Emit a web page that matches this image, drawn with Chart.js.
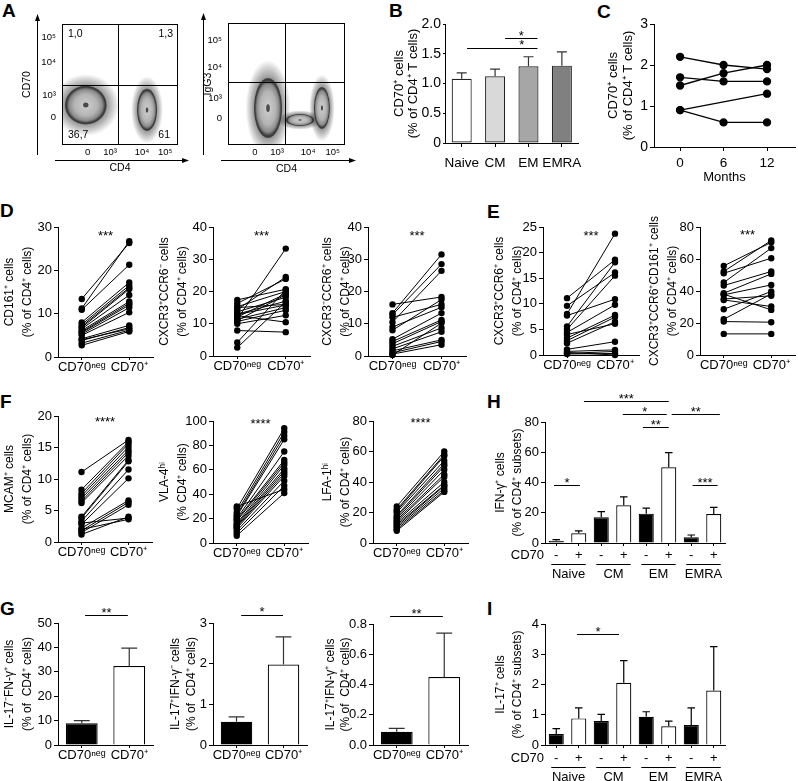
<!DOCTYPE html>
<html>
<head>
<meta charset="utf-8">
<script src="https://cdn.jsdelivr.net/npm/chart.js@4.4.1/dist/chart.umd.min.js"></script>
<style>
  html, body { margin: 0; padding: 0; background: #fff; }
  #fig { position: relative; width: 798px; height: 781px; overflow: hidden; font-family: "Liberation Sans", Arial, sans-serif; }
  .lbl { position: absolute; font-weight: bold; font-size: 19px; line-height: 19px; }
  canvas { position: absolute; }
</style>
</head>
<body>
<div id="fig">
  <div class="lbl" style="left:2px;top:1px">A</div>
  <div class="lbl" style="left:389px;top:1px">B</div>
  <div class="lbl" style="left:597px;top:2px">C</div>
  <div class="lbl" style="left:0px;top:201px">D</div>
  <div class="lbl" style="left:487px;top:202px">E</div>
  <div class="lbl" style="left:0px;top:392px">F</div>
  <div class="lbl" style="left:487px;top:392px">H</div>
  <div class="lbl" style="left:0px;top:599px">G</div>
  <div class="lbl" style="left:487px;top:599px">I</div>
</div>
<script>
// ---------- data ----------

// A: flow plots, display units 0-100 on both axes
const aTickText = ['0', '10³', '10⁴', '10⁵'];
const aLeftXTicks = [22, 41.5, 69, 89];
const aLeftYTicks = [23, 41, 68, 89];
const aRightXTicks = [23, 42, 68.5, 89.5];
const aRightYTicks = [22, 38, 64, 86];
const aLeftGate = [48.3, 49.6];
const aRightGate = [48.7, 51.6];
const aLeftQuad = ['1,0', '1,3', '36,7', '61'];
// populations: centre x, centre y, spread x, spread y
const aLeftPops = [[20.5, 33, 18, 16], [73.3, 29, 8.6, 17.4]];
const aRightPops = [[61.5, 20.5, 12, 5], [34.2, 30.3, 12, 24.6], [80.3, 30.3, 6.8, 17.2]];

// B
const bCats = ['Naive', 'CM', 'EM', 'EMRA'];
const bMean = [1.08, 1.12, 1.29, 1.30];
const bErr = [0.10, 0.12, 0.16, 0.23];
const bSig = [[1.3, 2.27, 1.765, '*'], [0.16, 2.27, 1.6, '*', 1.8]];

// C
const cMonths = [0, 6, 12];
const cSubj1 = [2.2, 2.0, 1.9];
const cSubj2 = [1.7, 1.6, 1.6];
const cSubj3 = [1.5, 1.8, 2.0];
const cSubj4 = [0.9, null, 1.3];
const cSubj5 = [0.9, 0.6, 0.6];

// paired plots
const pairLabels = ['CD70ⁿᵉᵍ', 'CD70⁺'];
const d1Neg = [13.4, 11.2, 10.9, 8.0, 7.5, 7.1, 6.8, 6.5, 6.1, 5.8, 5.6, 5.3, 5.0, 4.2, 3.8, 3.2, 2.7, 4.0];
const d1Pos = [26.3, 26.7, 21.3, 17.2, 16.5, 16.0, 15.7, 14.3, 12.8, 12.4, 12.0, 11.4, 10.3, 7.3, 6.8, 6.2, 5.9, 6.5];
const d2Neg = [11.5, 14.4, 16.3, 17.4, 15.3, 12.1, 13.7, 12.9, 11.4, 10.7, 10.0, 12.5, 15.0, 11.0, 7.9, 4.2, 2.6, 13.0];
const d2Pos = [33.3, 24.5, 23.9, 20.7, 20.0, 19.3, 18.2, 15.8, 15.0, 14.2, 12.6, 10.5, 16.0, 19.0, 7.4, 20.5, 16.8, 17.0];
const d3Neg = [16.0, 13.3, 12.8, 10.5, 9.0, 8.0, 5.2, 4.5, 3.8, 3.0, 2.2, 1.6, 1.0, 0.6, 0.3, 12.0];
const d3Pos = [18.3, 31.5, 28.5, 26.4, 15.1, 17.5, 13.3, 11.2, 10.7, 8.7, 7.5, 5.0, 4.5, 3.5, 10.2, 16.0];
const e1Neg = [8.0, 11.1, 9.6, 5.6, 5.0, 7.7, 4.4, 3.3, 2.8, 2.3, 4.0, 1.1, 0.7, 0.3, 0.2, 0.5];
const e1Pos = [23.7, 18.6, 16.1, 18.1, 15.5, 10.9, 9.8, 7.8, 7.4, 6.5, 6.1, 2.6, 1.0, 0.7, 0.3, 0.0];
const e2Neg = [55.7, 52.2, 51.1, 45.3, 43.4, 38.6, 37.6, 34.4, 28.6, 22.3, 20.9, 13.2, 35.0, 38.0];
const e2Pos = [70.4, 71.6, 60.5, 66.8, 52.2, 50.7, 43.8, 30.3, 39.7, 38.2, 20.5, 13.2, 37.0, 28.2];
const f1Neg = [11.1, 8.3, 7.7, 7.3, 6.9, 6.5, 6.2, 4.0, 3.8, 3.3, 2.8, 2.2, 1.8, 1.5, 1.2, 3.0, 2.0];
const f1Pos = [16.2, 15.9, 15.6, 15.1, 14.6, 14.2, 13.7, 13.0, 12.8, 11.5, 10.1, 6.6, 6.3, 5.9, 4.0, 3.8, 3.6];
const f2Neg = [30, 28, 25, 23, 22, 20, 19, 18, 16, 15, 14, 13, 12, 10, 8, 6];
const f2Pos = [44, 94, 91, 88, 85, 75, 68, 66, 64, 61, 59, 57, 55, 51, 47, 41];
const f3Neg = [24, 22, 21, 20, 18, 17, 16, 15, 14, 13, 12, 11, 10, 9, 8];
const f3Pos = [60, 58, 57, 54, 52, 50.5, 48, 45, 43.5, 40, 38, 37.5, 36, 34.5, 33.5];

// G
const g1Mean = [8.9, 32.4], g1Err = [1.1, 7.3];
const g2Mean = [0.57, 1.98], g2Err = [0.12, 0.68];
const g3Mean = [0.088, 0.45], g3Err = [0.022, 0.29];
const g1Sig = [[0.07, 0.97, 53.3, '**']];
const g2Sig = [[0.1, 0.99, 3.2, '*']];
const g3Sig = [[-0.14, 0.97, 0.853, '**']];

// H, I
const subsetGroups = ['Naive', 'CM', 'EM', 'EMRA'];
const cd70Signs = ['-', '+', '-', '+', '-', '+', '-', '+'];
const hMean = [1.5, 6.4, 17.0, 25.0, 19.4, 50.1, 3.8, 19.2];
const hErr = [0.7, 1.6, 3.7, 5.5, 3.6, 9.7, 1.5, 4.4];
const hSig = [[-0.1, 1.05, 38.3, '*'], [1.23, 5.0, 93.9, '***'], [2.96, 4.91, 85.3, '*'],
              [3.85, 5.0, 76.7, '**'], [5.13, 7.27, 85.3, '**'], [6.06, 7.17, 38.3, '***']];
const iMean = [0.36, 0.88, 0.79, 2.06, 0.93, 0.62, 0.66, 1.80];
const iErr = [0.18, 0.35, 0.22, 0.73, 0.17, 0.17, 0.57, 1.45];
const iSig = [[0.92, 2.79, 3.67, '*']];

// ---------- setup ----------
const FONT = '"Liberation Sans", Arial, Helvetica, sans-serif';
Chart.defaults.font.family = FONT;
Chart.defaults.color = '#000';
const fig = document.getElementById('fig');

// error bars (upper whisker only)
const errBars = {
  id: 'errBars',
  afterDatasetsDraw(chart, args, o) {
    if (!o.err) return;
    const {ctx, scales: {y}} = chart;
    const vals = chart.data.datasets[0].data;
    ctx.save();
    ctx.strokeStyle = o.color || '#000';
    ctx.lineWidth = 1.2;
    chart.getDatasetMeta(0).data.forEach((bar, i) => {
      const p = bar.getProps(['x', 'y', 'width'], true);
      const yt = y.getPixelForValue(vals[i] + o.err[i]);
      const hw = p.width * 0.25;
      ctx.beginPath();
      ctx.moveTo(p.x, p.y); ctx.lineTo(p.x, yt);
      ctx.moveTo(p.x - hw, yt); ctx.lineTo(p.x + hw, yt);
      ctx.stroke();
    });
    ctx.restore();
  }
};

// significance lines and stars
const sigMarks = {
  id: 'sigMarks',
  afterDraw(chart, args, o) {
    if (!o.marks) return;
    const {ctx, scales: {x, y}} = chart;
    ctx.save();
    ctx.fillStyle = '#000'; ctx.strokeStyle = '#000'; ctx.lineWidth = 1;
    ctx.font = (o.size || 13) + 'px ' + FONT;
    ctx.textAlign = 'center'; ctx.textBaseline = 'middle';
    o.marks.forEach(m => {
      const py = y.getPixelForValue(m[2]);
      const x1 = x.getPixelForValue(m[0]), x2 = x.getPixelForValue(m[1]);
      if (m[0] !== m[1]) {
        const ly = Math.round(py) + 0.5;
        ctx.beginPath(); ctx.moveTo(x1, ly); ctx.lineTo(x2, ly); ctx.stroke();
        const tx = m[4] !== undefined ? x.getPixelForValue(m[4]) : (x1 + x2) / 2;
        ctx.fillText(m[3], tx, py - 2);
      } else {
        ctx.fillText(m[3], x1, py + 3);
      }
    });
    ctx.restore();
  }
};

// CD70 row, subset underlines and names under H and I
const groupAxis = {
  id: 'groupAxis',
  afterDraw(chart, args, o) {
    if (!o.groups) return;
    const {ctx, chartArea: a, scales: {x}} = chart;
    ctx.save();
    ctx.font = '13px ' + FONT;
    ctx.fillStyle = '#000'; ctx.strokeStyle = '#000'; ctx.lineWidth = 1;
    ctx.textBaseline = 'middle';
    ctx.textAlign = 'right';
    ctx.fillText(o.title, a.left - 1, a.bottom + o.tickY);
    ctx.textAlign = 'center';
    o.groups.forEach((g, k) => {
      const x0 = x.getPixelForValue(2 * k) - 5, x1 = x.getPixelForValue(2 * k + 1) + 7;
      const ly = Math.round(a.bottom + o.lineY) + 0.5;
      ctx.beginPath(); ctx.moveTo(x0, ly); ctx.lineTo(x1, ly); ctx.stroke();
      ctx.fillText(g, (x0 + x1) / 2, a.bottom + o.textY);
    });
    ctx.restore();
  }
};

// density blob for flow plots: speckled halo, dark rim, light grey inside
function blob(ctx, cx, cy, rx, ry) {
  ctx.save();
  ctx.translate(cx, cy); ctx.scale(rx, ry);
  let gr = ctx.createRadialGradient(0, 0, 0.85, 0, 0, 1.6);
  gr.addColorStop(0, 'rgba(0,0,0,0.5)');
  gr.addColorStop(1, 'rgba(0,0,0,0)');
  ctx.fillStyle = gr;
  ctx.beginPath(); ctx.arc(0, 0, 1.6, 0, Math.PI * 2); ctx.fill();
  gr = ctx.createRadialGradient(0, 0, 0, 0, 0, 1);
  gr.addColorStop(0, '#cfcfcf');
  gr.addColorStop(0.55, '#b4b4b4');
  gr.addColorStop(0.8, '#8a8a8a');
  gr.addColorStop(0.93, '#3a3a3a');
  gr.addColorStop(1, 'rgba(40,40,40,0.7)');
  ctx.fillStyle = gr;
  ctx.beginPath(); ctx.arc(0, 0, 1, 0, Math.PI * 2); ctx.fill();
  ctx.fillStyle = '#4a4a4a';
  ctx.beginPath(); ctx.arc(0, 0, 0.13, 0, Math.PI * 2); ctx.fill();
  ctx.restore();
}

const flow = {
  id: 'flow',
  beforeDatasetsDraw(chart, args, o) {
    if (!o.pops) return;
    const {ctx, chartArea: a, scales: {x, y}} = chart;
    ctx.save();
    ctx.beginPath(); ctx.rect(a.left, a.top, a.width, a.height); ctx.clip();
    o.pops.forEach(p => {
      const cx = x.getPixelForValue(p[0]), cy = y.getPixelForValue(p[1]);
      const rx = x.getPixelForValue(p[0] + p[2]) - cx, ry = cy - y.getPixelForValue(p[1] + p[3]);
      blob(ctx, cx, cy, rx, ry);
    });
    ctx.restore();

    ctx.save();
    ctx.strokeStyle = '#000'; ctx.fillStyle = '#000'; ctx.lineWidth = 1;
    ctx.strokeRect(a.left + 0.5, a.top + 0.5, a.width - 1, a.height - 1);
    const gx = Math.round(x.getPixelForValue(o.gate[0])) + 0.5;
    const gy = Math.round(y.getPixelForValue(o.gate[1])) + 0.5;
    ctx.beginPath();
    ctx.moveTo(gx, a.top); ctx.lineTo(gx, a.bottom);
    ctx.moveTo(a.left, gy); ctx.lineTo(a.right, gy);
    ctx.stroke();
    // axis arrows
    const ax = a.left - 24.5, ay = a.bottom + 15.5;
    ctx.beginPath();
    ctx.moveTo(ax, a.bottom + 10); ctx.lineTo(ax, a.top - 6);
    ctx.moveTo(a.left - 7, ay); ctx.lineTo(a.right + 7, ay);
    ctx.stroke();
    ctx.beginPath(); ctx.moveTo(ax, a.top - 10); ctx.lineTo(ax - 2.5, a.top - 3); ctx.lineTo(ax + 2.5, a.top - 3); ctx.fill();
    ctx.beginPath(); ctx.moveTo(a.right + 11, ay); ctx.lineTo(a.right + 4, ay - 2.5); ctx.lineTo(a.right + 4, ay + 2.5); ctx.fill();
    if (o.quad) {
      ctx.font = '10.5px ' + FONT;
      ctx.textBaseline = 'middle';
      ctx.textAlign = 'left';
      ctx.fillText(o.quad[0], a.left + 6, a.top + 10);
      ctx.fillText(o.quad[2], a.left + 6, a.bottom - 10);
      ctx.textAlign = 'right';
      ctx.fillText(o.quad[1], a.right - 5, a.top + 10);
      ctx.fillText(o.quad[3], a.right - 8, a.bottom - 10);
    }
    ctx.restore();
  }
};

Chart.register(errBars, sigMarks, groupAxis, flow);

// place a canvas so that the plot area lands on L,T,R,B of the page
function mk(g, config) {
  const left = Math.round(g.tx - g.lh / 2);
  const top = g.T - (g.pt ?? 16);
  const right = g.R + (g.pr ?? 8);
  const bottom = g.B + g.hb;
  const cv = document.createElement('canvas');
  cv.width = right - left; cv.height = bottom - top;
  cv.style.left = left + 'px'; cv.style.top = top + 'px';
  fig.appendChild(cv);
  const o = config.options;
  o.responsive = false;
  o.animation = false;
  o.layout = {autoPadding: false, padding: {left: 0, top: g.T - top, right: right - g.R, bottom: 0}};
  o.scales.x.afterFit = s => { s.height = g.hb; };
  o.scales.y.afterFit = s => { s.width = g.L - left; };
  o.plugins = Object.assign({legend: {display: false}, tooltip: {enabled: false}}, o.plugins);
  return new Chart(cv, config);
}

function yLin(min, max, step, lines, g, extra) {
  const tf = g.tf || 12;
  return Object.assign({
    min, max,
    ticks: {stepSize: step, font: {size: g.tk || 13}, padding: 2},
    grid: {drawOnChartArea: false, drawTicks: true, tickLength: g.tl || 4, color: '#000'},
    border: {color: '#000', width: 1},
    title: {display: true, text: lines, padding: 0, font: {size: tf, lineHeight: g.lh / tf}}
  }, extra || {});
}

function xCat(g, extra) {
  return Object.assign({
    type: 'category', offset: true,
    grid: {offset: false, drawOnChartArea: false, tickLength: 3, color: '#000'},
    border: {color: '#000', width: 1},
    ticks: {font: {size: g.xk || 13}, padding: g.xp ?? 0, maxRotation: 0, autoSkip: false}
  }, extra || {});
}

// ---------- A ----------
function flowChart(g, xt, yt, xTitle, yTitle, plug, titlePad) {
  return mk(g, {
    type: 'scatter',
    data: {datasets: []},
    options: {
      scales: {
        x: {type: 'linear', min: 0, max: 100,
            afterBuildTicks: s => { s.ticks = xt.map(v => ({value: v})); },
            ticks: {callback: (v, i) => aTickText[i], font: {size: 9.5}, padding: 2, maxRotation: 0, autoSkip: false},
            grid: {display: false, drawTicks: false}, border: {display: false},
            title: {display: true, text: xTitle, padding: 0, font: {size: 10.5, lineHeight: 1.24}}},
        y: {type: 'linear', min: 0, max: 100,
            afterBuildTicks: s => { s.ticks = yt.map(v => ({value: v})); },
            ticks: {callback: (v, i) => aTickText[i], font: {size: 9.5}, padding: 6, autoSkip: false},
            grid: {display: false, drawTicks: false}, border: {display: false},
            title: {display: true, text: yTitle, padding: {top: titlePad, bottom: 0}, font: {size: 10.5, lineHeight: 1.24}}}
      },
      plugins: {flow: plug}
    }
  });
}
flowChart({L: 62, T: 24, R: 178, B: 145, tx: 27, lh: 13, pt: 19, pr: 17, hb: 30},
  aLeftXTicks, aLeftYTicks, 'CD4', 'CD70', {pops: aLeftPops, gate: aLeftGate, quad: aLeftQuad}, 0);
flowChart({L: 228, T: 23, R: 345, B: 145, tx: 204, lh: 13, pt: 18, pr: 17, hb: 31},
  aRightXTicks, aRightYTicks, 'CD4', 'IgG3', {pops: aRightPops, gate: aRightGate}, 4);

// ---------- B ----------
const gB = {L: 445, T: 24, R: 585, B: 143, tx: 399, lh: 14, tf: 13, tk: 14, tl: 2, xk: 13.5, xp: 8, pt: 16, pr: 5, hb: 32};
mk(gB, {
  type: 'bar',
  data: {labels: bCats, datasets: [{
    data: bMean,
    backgroundColor: ['#ffffff', '#d9d9d9', '#a6a6a6', '#808080'],
    borderColor: '#222', borderWidth: 1.2, borderSkipped: false,
    barPercentage: 0.6, categoryPercentage: 1
  }]},
  options: {
    scales: {
      x: xCat(gB, {grid: {offset: false, drawOnChartArea: false, tickLength: 4, color: '#000'}}),
      y: yLin(0, 2, 0.5, ['CD70⁺ cells', '(% of CD4⁺ T cells)'], gB, {}),
    },
    plugins: {errBars: {err: bErr, color: '#333'}, sigMarks: {marks: bSig}}
  }
});

// ---------- C ----------
const gC = {L: 654, T: 24, R: 795, B: 147, tx: 613, lh: 15, tf: 13, tk: 14, pt: 16, pr: 3, hb: 38};
const cSubjects = [cSubj1, cSubj2, cSubj3, cSubj4, cSubj5];
mk(gC, {
  type: 'line',
  data: {datasets: cSubjects.map(s => ({
    data: cMonths.map((m, i) => ({x: m, y: s[i]})),
    borderColor: '#000', backgroundColor: '#000', borderWidth: 1.3,
    pointRadius: 3.5, spanGaps: true, clip: false
  }))},
  options: {
    scales: {
      x: {type: 'linear', min: -3.6, max: 15.86,
          afterBuildTicks: s => { s.ticks = cMonths.map(v => ({value: v})); },
          ticks: {font: {size: 13.5}, padding: 4},
          grid: {drawOnChartArea: false, tickLength: 4, color: '#000'},
          border: {color: '#000', width: 1},
          title: {display: true, text: 'Months', padding: 0, font: {size: 13, lineHeight: 1.15}}},
      y: yLin(0, 3, 1, ['CD70⁺ cells', '(% of CD4⁺ T cells)'], gC)
    }
  }
});

// ---------- D, E, F ----------
function paired(g, neg, pos, yMax, step, lines, starY, stars) {
  return mk(g, {
    type: 'line',
    data: {labels: pairLabels, datasets: neg.map((v, i) => ({
      data: [v, pos[i]],
      borderColor: '#000', backgroundColor: '#000', borderWidth: 1,
      pointRadius: 3.2, pointBorderWidth: 0, clip: false
    }))},
    options: {
      scales: {x: xCat(g), y: yLin(0, yMax, step, lines, g)},
      plugins: {sigMarks: {marks: [[0.5, 0.5, starY, stars]]}}
    }
  });
}
const pct = '(% of CD4⁺ cells)';
paired({L: 58, T: 227, R: 153, B: 357, tx: 10, lh: 18, pt: 20, hb: 20}, d1Neg, d1Pos, 30, 10, ['CD161⁺ cells', pct], 28.6, '***');
paired({L: 213, T: 227, R: 310, B: 356, tx: 165, lh: 18, pt: 20, hb: 20}, d2Neg, d2Pos, 40, 10, ['CXCR3⁺CCR6⁻ cells', pct], 38.1, '***');
paired({L: 368, T: 227, R: 466, B: 356, tx: 328, lh: 18, pt: 20, hb: 20}, d3Neg, d3Pos, 40, 10, ['CXCR3⁻CCR6⁺ cells', pct], 38.1, '***');
paired({L: 543, T: 227, R: 639, B: 355, tx: 500, lh: 18, pt: 20, hb: 20}, e1Neg, e1Pos, 25, 5, ['CXCR3⁺CCR6⁺ cells', pct], 23.8, '***');
paired({L: 700, T: 227, R: 795, B: 355, tx: 655, lh: 18, pt: 20, pr: 3, hb: 20}, e2Neg, e2Pos, 80, 20, ['CXCR3⁺CCR6⁺CD161⁺ cells', pct], 76.3, '***');
paired({L: 58, T: 416, R: 152, B: 542, tx: 10, lh: 18, pt: 20, hb: 20}, f1Neg, f1Pos, 20, 5, ['MCAM⁺ cells', pct], 19.4, '****');
paired({L: 213, T: 421, R: 308, B: 543, tx: 165, lh: 18, pt: 20, hb: 20}, f2Neg, f2Pos, 100, 20, ['VLA-4ʰⁱ', '(% CD4⁺ cells)'], 100, '****');
paired({L: 373, T: 421, R: 468, B: 543, tx: 328, lh: 18, pt: 20, hb: 20}, f3Neg, f3Pos, 80, 20, ['LFA-1ʰⁱ', pct], 80.7, '****');

// ---------- G ----------
function twoBars(g, mean, err, yMax, step, lines, sig, fmt) {
  const yExtra = fmt ? {ticks: {stepSize: step, font: {size: 13}, padding: 2, callback: v => v.toFixed(1)}} : {};
  return mk(g, {
    type: 'bar',
    data: {labels: pairLabels, datasets: [{
      data: mean, backgroundColor: ['#000', '#fff'], borderColor: '#000', borderWidth: 1.2,
      barPercentage: 0.67, categoryPercentage: 1
    }]},
    options: {
      scales: {x: xCat(g), y: yLin(0, yMax, step, lines, g, yExtra)},
      plugins: {errBars: {err: err, color: '#333'}, sigMarks: {marks: sig}}
    }
  });
}
const pctG = '(% of  CD4⁺ cells)';
twoBars({L: 58, T: 623, R: 153, B: 745, tx: 10, lh: 18, pt: 22, hb: 22}, g1Mean, g1Err, 50, 10, ['IL-17⁻FN-γ⁺ cells', pctG], g1Sig);
twoBars({L: 213, T: 623, R: 307, B: 745, tx: 176, lh: 16, pt: 22, hb: 22}, g2Mean, g2Err, 3, 1, ['IL-17⁺IFN-γ⁻ cells', pctG], g2Sig);
twoBars({L: 373, T: 624, R: 468, B: 745, tx: 330, lh: 15, pt: 22, hb: 22}, g3Mean, g3Err, 0.8, 0.2, ['IL-17⁺IFN-γ⁺ cells', pctG], g3Sig, true);

// ---------- H, I ----------
function subsetBars(g, mean, err, yMax, step, lines, sig, rows) {
  return mk(g, {
    type: 'bar',
    data: {labels: cd70Signs, datasets: [{
      data: mean,
      backgroundColor: cd70Signs.map(s => s === '-' ? '#000' : '#fff'),
      borderColor: '#000', borderWidth: 1.2,
      barPercentage: 0.67, categoryPercentage: 1
    }]},
    options: {
      scales: {x: xCat(g), y: yLin(0, yMax, step, lines, g)},
      plugins: {
        errBars: {err: err, color: '#000'},
        sigMarks: {marks: sig},
        groupAxis: Object.assign({groups: subsetGroups, title: 'CD70'}, rows)
      }
    }
  });
}
subsetBars({L: 545, T: 422, R: 725, B: 543, tx: 500, lh: 17, pt: 30, hb: 40, xp: 2}, hMean, hErr, 80, 20,
  ['IFN-γ⁺ cells', '(% of CD4⁺ subsets)'], hSig, {tickY: 12, lineY: 21, textY: 31});
subsetBars({L: 545, T: 624, R: 725, B: 745, tx: 500, lh: 17, pt: 20, hb: 40, xp: 3}, iMean, iErr, 4, 1,
  ['IL-17⁺ cells', '(% of CD4⁺ subsets)'], iSig, {tickY: 13, lineY: 22, textY: 32});
</script>
</body>
</html>
